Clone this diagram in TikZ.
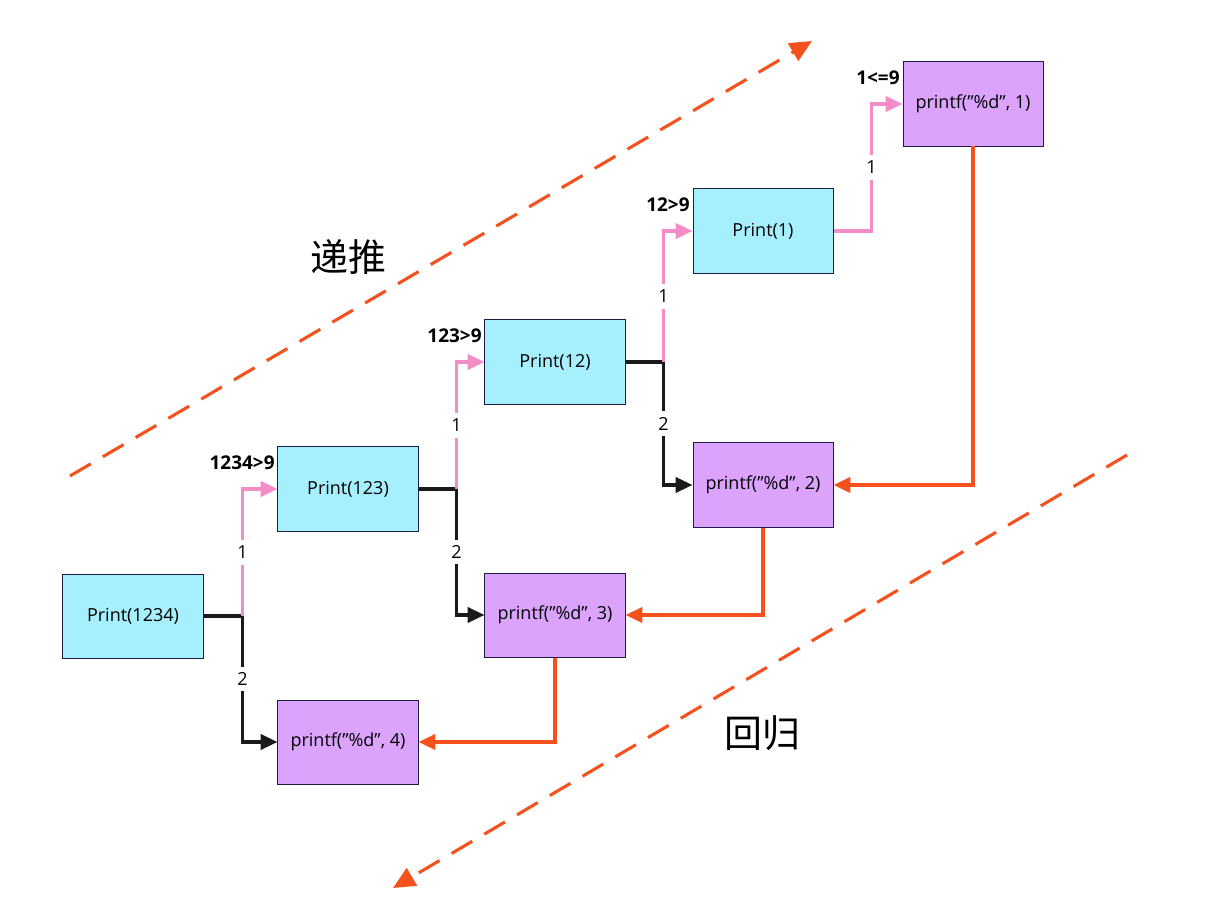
\documentclass[tikz,border=0pt]{standalone}
\usepackage{fontspec}
\setmainfont{Open Sans}
\newfontfamily\cjk{Noto Sans CJK SC}
\usetikzlibrary{arrows.meta, positioning}

\definecolor{callcyan}{HTML}{A6EFFC}
\definecolor{printviolet}{HTML}{DCA3FD}
\definecolor{boxline}{HTML}{1C1C48}
\definecolor{recpink}{HTML}{F48CC8}
\definecolor{retorange}{HTML}{F4511E}
\definecolor{seqblack}{HTML}{1A1A1A}

\begin{document}
\begin{tikzpicture}[
    x=0.025cm, y=-0.025cm,
    font=\fontsize{12.8}{15}\selectfont,
    box/.style={rectangle, draw=boxline, line width=0.7pt, minimum width=3.5cm, minimum height=2.1cm, inner sep=0pt},
    callbox/.style={box, fill=callcyan},
    printbox/.style={box, fill=printviolet},
    recline/.style={draw=recpink, line width=2.2pt, -{Triangle[length=0.42cm, width=0.38cm]}},
    seqline/.style={draw=seqblack, line width=2.2pt, -{Triangle[length=0.42cm, width=0.38cm]}},
    retline/.style={draw=retorange, line width=2.2pt, -{Triangle[length=0.42cm, width=0.38cm]}},
    dirline/.style={draw=retorange, line width=2.2pt, dash pattern=on 0.6cm off 0.35cm, -{Triangle[length=0.55cm, width=0.5cm]}},
    lab/.style={fill=white, inner xsep=1pt, inner ysep=4pt},
    cond/.style={font=\fontsize{13.5}{15}\selectfont\bfseries, inner sep=1pt},
    word/.style={font=\cjk\fontsize{27}{30}\selectfont}
]
\useasboundingbox (0,0) rectangle (1207,924);

% Calls
\node[callbox] (p1234) at (133,616) {Print(1234)};
\node[callbox] (p123) at (348,489) {Print(123)};
\node[callbox] (p12) at (555,362) {Print(12)};
\node[callbox] (p1) at (763,231) {Print(1)};

% Prints
\node[printbox] (f1) at (973,104) {printf(\symbol{34}\%d\symbol{34}, 1)};
\node[printbox] (f2) at (763,485) {printf(\symbol{34}\%d\symbol{34}, 2)};
\node[printbox] (f3) at (555,615) {printf(\symbol{34}\%d\symbol{34}, 3)};
\node[printbox] (f4) at (348,742) {printf(\symbol{34}\%d\symbol{34}, 4)};

% Conditions
\node[cond, below left=0.2cm and 0.03cm of p123.north west] (c1) {1234>9};
\node[cond, below left=0.2cm and 0.03cm of p12.north west] (c2) {123>9};
\node[cond, below left=0.2cm and 0.03cm of p1.north west] (c3) {12>9};
\node[cond, below left=0.2cm and 0.03cm of f1.north west] (c4) {1<=9};

% Branches
\draw[seqline] (p1234.east) -- ++(39,0) coordinate (j1) |- node[lab, pos=0.25] {2} (f4.west);
\draw[recline] (j1) |- node[lab, pos=0.25] {1} (p123.west);
\draw[seqline] (p123.east) -- ++(38,0) coordinate (j2) |- node[lab, pos=0.25] {2} (f3.west);
\draw[recline] (j2) |- node[lab, pos=0.25] {1} (p12.west);
\draw[seqline] (p12.east) -- ++(38,0) coordinate (j3) |- node[lab, pos=0.25] {2} (f2.west);
\draw[recline] (j3) |- node[lab, pos=0.25] {1} (p1.west);
\draw[recline] (p1.east) -- ++(38,0) |- node[lab, pos=0.25] {1} (f1.west);

% Returns
\draw[retline] (f1.south) |- (f2.east);
\draw[retline] (f2.south) |- (f3.east);
\draw[retline] (f3.south) |- (f4.east);

% Directions
\coordinate (up0) at (70,476);
\coordinate (up1) at (812,41);
\coordinate (dn0) at (1127,455);
\coordinate (dn1) at (393,888);
\draw[dirline] (up0) -- (up1);
\draw[dirline] (dn0) -- (dn1);
\node[word] (push) at (348,257) {递推};
\node[word] (back) at (762,733) {回归};

\end{tikzpicture}
\end{document}
